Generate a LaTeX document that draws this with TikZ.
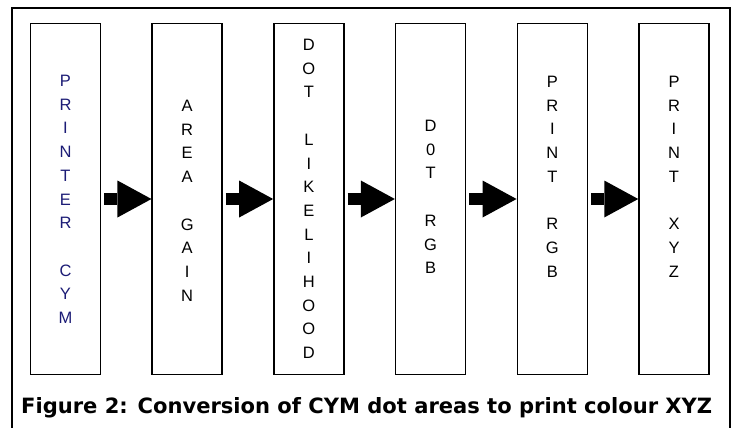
\documentclass[tikz,border=0pt]{standalone}
\usepackage{fontspec}
\usepackage{graphicx}
\setmainfont{Liberation Sans}
\newfontfamily\captionfont{DejaVu Sans}
\usetikzlibrary{arrows.meta}
\definecolor{inkblue}{RGB}{28,28,118}
\tikzset{
  stagebox/.style={draw=black, line width=1.5pt, minimum width=70pt,
    minimum height=351pt, inner sep=0pt},
  letters/.style={align=center, inner sep=0pt, anchor=north,
    font=\fontsize{16.5}{23.7}\selectfont},
  blockarrow/.style={line width=12pt,
    -{Triangle[length=34pt, width=37pt, line width=0pt]}},
  frameline/.style={line width=2pt, line cap=butt}
}
\begin{document}
\begin{tikzpicture}[x=1pt, y=-1pt]
  \useasboundingbox (0,0) rectangle (733,428);
  \fill[white] (0,0) rectangle (733,428);
  % outer frame, open at the bottom
  \draw[frameline] (12,428) -- (12,8) -- (730,8) -- (730,428);

  % processing stages
  \node[stagebox] (b1) at (65.5,199) {};
  \node[stagebox] (b2) at (187.2,199) {};
  \node[stagebox] (b3) at (308.9,199) {};
  \node[stagebox] (b4) at (430.6,199) {};
  \node[stagebox] (b5) at (552.3,199) {};
  \node[stagebox] (b6) at (674.0,199) {};

  % vertical labels
  \node[letters, text=inkblue] (t1) at (65.5,75)
    {P\\R\\I\\N\\T\\E\\R\\\mbox{}\\C\\Y\\M};
  \node[letters] (t2) at (187.2,100)
    {A\\R\\E\\A\\\mbox{}\\G\\A\\I\\N};
  \node[letters] (t3) at (308.9,39)
    {D\\O\\T\\\mbox{}\\L\\I\\K\\E\\L\\I\\H\\O\\O\\D};
  \node[letters] (t4) at (430.6,120)
    {D\\0\\T\\\mbox{}\\R\\G\\B};
  \node[letters] (t5) at (552.3,76)
    {P\\R\\I\\N\\T\\\mbox{}\\R\\G\\B};
  \node[letters] (t6) at (674.0,76)
    {P\\R\\I\\N\\T\\\mbox{}\\X\\Y\\Z};

  % connectors between stages
  \foreach \a/\b in {b1/b2, b2/b3, b3/b4, b4/b5, b5/b6}
    \draw[blockarrow] ([xshift=3pt]\a.east) -- (\b.west);

  % caption
  \node[anchor=base west, inner sep=0pt] (cap) at (21,413)
    {\resizebox{691pt}{16pt}{\captionfont\bfseries Figure 2: Conversion of CYM dot areas to print colour XYZ}};
\end{tikzpicture}
\end{document}
